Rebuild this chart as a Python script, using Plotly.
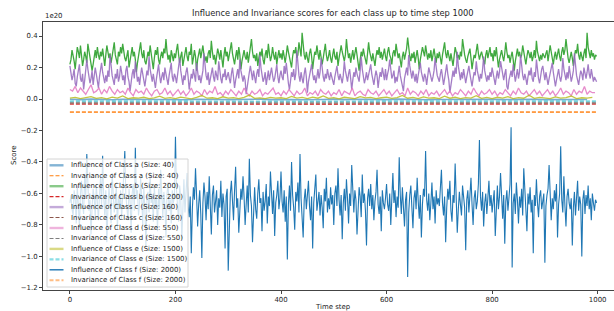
import plotly.graph_objects as go

# ---------------- data (scores in units of 1e20) ----------------
TITLE = "Influence and Invariance scores for each class up to time step 1000"
classes = ["a", "b", "c", "d", "e", "f"]
sizes = [40, 200, 160, 550, 1500, 2000]

t_inv = [0, 100, 200, 300, 400, 500, 600, 700, 800, 900, 999]

# sampled every 2 time steps
infl_f = [
    -0.66,-0.61,-0.70,-0.74,-0.58,-0.63,-0.79,-0.55,-0.68,-0.82,-0.60,-0.52,-0.67,-0.73,-0.48,-0.62,-0.35,-0.59,-0.71,-0.64,-0.86,-0.69,-0.57,-0.63,-0.75,-0.54,-0.66,-0.77,-0.61,-0.50,-0.68,-0.36,-0.62,-0.74,-0.58,-0.91,-0.70,-0.56,-0.65,-0.79,-0.47,-0.60,-0.72,-0.66,-0.55,-0.83,-0.62,-0.70,-0.58,-0.76,
    -0.64,-0.52,-0.33,-0.61,-0.69,-0.77,-0.57,-0.65,-0.85,-0.60,-0.54,-0.71,-0.31,-0.63,-0.58,-0.74,-0.67,-0.50,-0.62,-0.80,-0.56,-0.69,-0.94,-0.64,-0.59,-0.72,-0.48,-0.66,-0.61,-0.78,-0.55,-0.68,-0.63,-0.84,-0.57,-0.70,-0.45,-0.62,-0.75,-0.59,-0.67,-0.88,-0.60,-0.53,-0.71,-0.64,-0.79,-0.58,-0.66,-0.62,
    -0.24,-0.58,-0.69,-0.78,-0.55,-0.63,-0.90,-0.66,-0.51,-0.72,-0.60,-0.47,-0.68,-0.75,-0.62,-0.98,-0.70,-0.56,-0.64,-0.44,-0.61,-0.81,-0.67,-0.58,-0.73,-1.01,-0.66,-0.53,-0.62,-0.77,-0.59,-0.70,-0.49,-0.64,-0.86,-0.61,-0.55,-0.72,-0.66,-0.58,-0.80,-0.63,-0.69,-0.52,-0.75,-0.60,-0.67,-0.95,-0.62,-0.57,
    -1.09,-0.72,-0.60,-0.52,-0.66,-0.77,-0.58,-0.43,-0.69,-0.63,-0.85,-0.71,-0.57,-0.64,-0.49,-0.62,-0.80,-0.67,-0.55,-0.72,-0.38,-0.61,-0.68,-0.91,-0.64,-0.56,-0.70,-0.76,-0.60,-0.51,-0.66,-0.63,-0.84,-0.59,-0.71,-0.65,-0.54,-0.79,-0.62,-0.68,-0.46,-0.64,-0.73,-0.58,-0.87,-0.66,-0.61,-0.52,-0.70,-0.63,
    -0.46,-0.65,-0.72,-0.58,-0.78,-0.62,-1.02,-0.67,-0.55,-0.71,-0.40,-0.61,-0.69,-0.83,-0.59,-0.65,-0.53,-0.72,-0.35,-0.63,-0.76,-0.88,-0.64,-0.57,-0.70,-0.60,-0.52,-0.68,-0.77,-0.62,-0.95,-0.66,-0.58,-0.48,-0.71,-0.64,-0.59,-0.74,-0.61,-0.69,-0.82,-0.57,-0.65,-0.50,-0.72,-0.63,-0.70,-0.56,-0.67,-0.61,
    -0.80,-0.60,-0.55,-0.68,-0.44,-0.64,-0.74,-0.61,-0.89,-0.66,-0.57,-0.71,-0.51,-0.63,-0.79,-0.60,-0.68,-0.42,-0.65,-0.72,-0.58,-0.64,-0.86,-0.69,-0.56,-0.62,-0.75,-0.48,-0.66,-0.60,-0.71,-0.93,-0.63,-0.57,-0.68,-0.54,-0.70,-0.61,-0.77,-0.65,-0.59,-0.45,-0.67,-0.73,-0.62,-0.84,-0.58,-0.66,-0.70,-0.63,
    -0.54,-0.67,-0.71,-0.60,-0.80,-0.63,-0.47,-0.66,-0.58,-0.75,-0.62,-0.69,-0.37,-0.61,-0.73,-0.56,-0.66,-0.81,-0.64,-0.59,-1.13,-0.72,-0.61,-0.55,-0.69,-0.82,-0.63,-0.58,-0.70,-0.50,-0.65,-0.76,-0.61,-0.88,-0.67,-0.57,-0.62,-0.33,-0.64,-0.71,-0.60,-0.77,-0.66,-0.53,-0.70,-0.62,-0.79,-0.58,-0.67,-0.63,
    -0.68,-0.59,-0.45,-0.66,-0.74,-0.62,-0.91,-0.69,-0.57,-0.64,-0.52,-0.71,-0.78,-0.61,-0.66,-0.41,-0.63,-0.85,-0.70,-0.59,-0.67,-0.74,-0.55,-0.62,-0.69,-0.96,-0.64,-0.58,-0.72,-0.61,-0.50,-0.67,-0.80,-0.63,-0.58,-0.70,-0.65,-0.54,-0.26,-0.62,-0.71,-0.59,-0.81,-0.66,-0.60,-0.73,-0.64,-0.52,-0.68,-0.61,
    -0.72,-0.64,-0.58,-0.87,-0.66,-0.55,-0.70,-0.62,-0.47,-0.68,-0.76,-0.61,-0.92,-0.65,-0.58,-0.71,-0.63,-0.54,-0.18,-1.07,-0.66,-0.60,-0.73,-0.53,-0.64,-0.79,-0.62,-0.69,-0.57,-0.74,-0.44,-0.63,-0.70,-0.84,-0.60,-0.67,-0.56,-0.72,-0.64,-0.98,-0.61,-0.68,-0.51,-0.66,-0.75,-0.62,-0.58,-0.70,-0.65,-0.60,
    -1.04,-0.68,-0.61,-0.57,-0.42,-0.66,-0.77,-0.63,-0.70,-0.58,-0.65,-0.54,-0.88,-0.67,-0.60,-0.30,-0.64,-0.72,-0.49,-0.68,-0.81,-0.62,-0.57,-0.66,-0.70,-0.63,-0.93,-0.69,-0.59,-0.74,-0.65,-0.52,-0.71,-0.62,-0.67,-1.00,-0.64,-0.58,-0.73,-0.61,-0.68,-0.55,-0.70,-0.63,-0.77,-0.60,-0.66,-0.71,-0.64,-0.66,
]

infl_b = [
    0.22,0.25,0.31,0.28,0.24,0.19,0.27,0.33,0.30,0.26,0.34,0.29,0.21,0.25,0.30,0.27,0.23,0.35,0.31,0.28,0.24,0.18,0.22,0.29,0.31,0.26,0.33,0.28,0.25,0.30,0.27,0.32,0.24,0.21,0.28,0.34,0.30,0.26,0.29,0.23,0.27,0.31,0.36,0.28,0.25,0.22,0.30,0.27,0.33,0.29,
    0.35,0.30,0.26,0.24,0.29,0.31,0.20,0.25,0.28,0.33,0.27,0.30,0.25,0.17,0.23,0.27,0.31,0.36,0.29,0.26,0.31,0.24,0.22,0.28,0.30,0.27,0.34,0.29,0.24,0.19,0.26,0.31,0.28,0.33,0.25,0.22,0.27,0.30,0.26,0.32,0.29,0.38,0.30,0.25,0.28,0.23,0.31,0.27,0.24,0.29,
    0.26,0.31,0.35,0.28,0.23,0.27,0.30,0.21,0.26,0.29,0.33,0.27,0.24,0.30,0.28,0.35,0.22,0.26,0.31,0.27,0.18,0.25,0.29,0.32,0.26,0.30,0.34,0.28,0.24,0.27,0.23,0.29,0.31,0.26,0.37,0.30,0.25,0.28,0.22,0.27,0.32,0.29,0.25,0.31,0.26,0.20,0.28,0.33,0.27,0.30,
    0.24,0.28,0.32,0.36,0.29,0.26,0.22,0.27,0.31,0.25,0.33,0.28,0.19,0.24,0.29,0.31,0.27,0.25,0.30,0.23,0.28,0.34,0.38,0.30,0.26,0.28,0.24,0.29,0.21,0.26,0.30,0.27,0.32,0.25,0.22,0.28,0.31,0.26,0.35,0.29,0.24,0.27,0.33,0.28,0.25,0.30,0.22,0.27,0.31,0.26,
    0.29,0.25,0.31,0.27,0.23,0.28,0.34,0.30,0.26,0.24,0.20,0.27,0.31,0.29,0.33,0.26,0.28,0.36,0.31,0.27,0.42,0.33,0.28,0.25,0.30,0.26,0.23,0.29,0.32,0.27,0.19,0.25,0.30,0.28,0.34,0.29,0.25,0.31,0.27,0.22,0.26,0.30,0.35,0.28,0.24,0.27,0.31,0.26,0.23,0.28,
    0.32,0.27,0.25,0.30,0.21,0.26,0.29,0.34,0.30,0.27,0.24,0.28,0.38,0.31,0.26,0.29,0.23,0.27,0.31,0.25,0.29,0.33,0.28,0.24,0.18,0.25,0.30,0.27,0.32,0.28,0.25,0.22,0.29,0.36,0.30,0.27,0.24,0.29,0.26,0.21,0.27,0.31,0.28,0.33,0.26,0.30,0.25,0.28,0.32,0.27,
    0.24,0.30,0.33,0.28,0.26,0.22,0.29,0.31,0.27,0.35,0.30,0.26,0.29,0.24,0.20,0.27,0.30,0.25,0.28,0.32,0.39,0.31,0.27,0.24,0.29,0.26,0.30,0.23,0.27,0.31,0.26,0.19,0.25,0.28,0.33,0.30,0.27,0.34,0.28,0.25,0.29,0.26,0.31,0.24,0.28,0.32,0.27,0.23,0.29,0.26,
    0.30,0.26,0.22,0.28,0.33,0.36,0.29,0.26,0.31,0.27,0.24,0.29,0.25,0.21,0.27,0.33,0.30,0.26,0.28,0.25,0.30,0.27,0.38,0.32,0.28,0.25,0.23,0.27,0.30,0.32,0.26,0.19,0.24,0.28,0.26,0.31,0.35,0.29,0.25,0.28,0.30,0.27,0.24,0.22,0.28,0.31,0.26,0.29,0.33,0.27,
    0.29,0.24,0.31,0.27,0.33,0.26,0.20,0.25,0.28,0.31,0.27,0.24,0.29,0.36,0.30,0.26,0.28,0.23,0.27,0.30,0.25,0.18,0.24,0.29,0.32,0.27,0.30,0.26,0.28,0.34,0.29,0.25,0.22,0.27,0.31,0.29,0.26,0.30,0.24,0.27,0.31,0.26,0.37,0.30,0.27,0.24,0.28,0.25,0.29,0.27,
    0.26,0.29,0.31,0.24,0.28,0.34,0.30,0.26,0.22,0.27,0.30,0.25,0.29,0.32,0.27,0.24,0.30,0.33,0.28,0.31,0.38,0.29,0.26,0.23,0.28,0.30,0.26,0.21,0.27,0.31,0.29,0.35,0.28,0.25,0.30,0.27,0.24,0.29,0.32,0.26,0.42,0.33,0.28,0.26,0.31,0.27,0.29,0.25,0.28,0.27,
]

infl_c = [
    0.21,0.17,0.12,0.15,0.19,0.10,0.08,0.14,0.18,0.22,0.13,0.11,0.16,0.06,0.12,0.17,0.25,0.19,0.14,0.10,0.13,0.18,0.09,0.15,0.20,0.16,0.12,0.07,0.14,0.19,0.23,0.17,0.13,0.10,0.15,0.11,0.18,0.14,0.28,0.20,0.15,0.12,0.09,0.16,0.13,0.19,0.11,0.14,0.21,0.17,
    0.12,0.15,0.09,0.18,0.21,0.14,0.11,0.05,0.12,0.16,0.19,0.13,0.24,0.17,0.11,0.14,0.09,0.15,0.20,0.16,0.12,0.08,0.13,0.18,0.15,0.27,0.19,0.14,0.11,0.16,0.12,0.07,0.13,0.19,0.22,0.15,0.10,0.14,0.17,0.12,0.20,0.16,0.13,0.09,0.15,0.18,0.23,0.14,0.11,0.16,
    0.14,0.10,0.17,0.21,0.26,0.18,0.13,0.09,0.15,0.12,0.17,0.20,0.14,0.06,0.11,0.16,0.13,0.19,0.15,0.11,0.23,0.17,0.12,0.15,0.10,0.14,0.18,0.29,0.21,0.15,0.12,0.17,0.09,0.13,0.16,0.20,0.14,0.11,0.18,0.15,0.12,0.24,0.17,0.13,0.10,0.16,0.14,0.19,0.12,0.15,
    0.17,0.13,0.10,0.16,0.20,0.14,0.07,0.12,0.16,0.19,0.13,0.25,0.18,0.14,0.11,0.15,0.12,0.03,0.09,0.14,0.17,0.21,0.15,0.12,0.18,0.13,0.10,0.16,0.19,0.14,0.28,0.20,0.15,0.11,0.13,0.17,0.09,0.14,0.18,0.12,0.16,0.20,0.15,0.11,0.13,0.17,0.22,0.14,0.10,0.15,
    0.18,0.14,0.12,0.21,0.16,0.23,0.15,0.10,0.06,0.13,0.17,0.14,0.19,0.12,0.16,0.31,0.22,0.15,0.11,0.17,0.13,0.10,0.16,0.20,0.14,0.04,0.11,0.15,0.18,0.22,0.16,0.12,0.15,0.10,0.14,0.19,0.13,0.17,0.26,0.18,0.14,0.11,0.16,0.13,0.19,0.15,0.12,0.17,0.14,0.13,
    0.09,0.14,0.17,0.21,0.15,0.12,0.16,0.13,0.10,0.15,0.24,0.18,0.14,0.11,0.16,0.19,0.13,0.06,0.12,0.17,0.14,0.20,0.16,0.13,0.11,0.18,0.27,0.19,0.14,0.10,0.13,0.17,0.12,0.15,0.19,0.22,0.16,0.12,0.09,0.14,0.18,0.15,0.07,0.13,0.17,0.14,0.20,0.16,0.12,0.19,
    0.12,0.16,0.19,0.25,0.17,0.13,0.15,0.18,0.10,0.14,0.11,0.16,0.21,0.15,0.12,0.07,0.05,0.13,0.17,0.20,0.15,0.28,0.21,0.16,0.13,0.18,0.14,0.11,0.16,0.10,0.15,0.19,0.23,0.17,0.13,0.11,0.16,0.14,0.09,0.15,0.20,0.17,0.13,0.11,0.14,0.18,0.26,0.19,0.15,0.13,
    0.11,0.16,0.19,0.14,0.09,0.13,0.17,0.22,0.16,0.12,0.04,0.10,0.15,0.18,0.14,0.20,0.16,0.30,0.21,0.15,0.12,0.17,0.13,0.19,0.15,0.10,0.14,0.18,0.21,0.16,0.12,0.08,0.13,0.17,0.15,0.24,0.18,0.14,0.11,0.16,0.13,0.19,0.27,0.18,0.14,0.11,0.15,0.12,0.17,0.14,
    0.20,0.16,0.12,0.09,0.14,0.18,0.13,0.17,0.24,0.19,0.14,0.12,0.16,0.19,0.08,0.06,0.12,0.15,0.18,0.14,0.22,0.16,0.11,0.15,0.19,0.13,0.17,0.28,0.20,0.15,0.12,0.16,0.13,0.09,0.14,0.18,0.15,0.20,0.13,0.11,0.17,0.14,0.25,0.18,0.13,0.10,0.15,0.19,0.21,0.16,
    0.12,0.17,0.14,0.09,0.13,0.16,0.21,0.23,0.17,0.13,0.08,0.12,0.16,0.19,0.14,0.11,0.15,0.26,0.19,0.14,0.12,0.17,0.13,0.21,0.15,0.11,0.14,0.18,0.29,0.20,0.15,0.12,0.09,0.14,0.18,0.16,0.12,0.20,0.15,0.13,0.17,0.22,0.16,0.13,0.19,0.15,0.11,0.14,0.12,0.11,
]

# sampled every 5 time steps
infl_d = [
    0.06,0.05,0.08,0.04,0.07,0.05,0.03,0.06,0.09,0.04,0.05,0.07,0.03,0.06,0.04,0.08,0.05,0.03,0.06,0.04,
    0.05,0.03,0.07,0.04,0.02,0.06,0.04,0.05,0.03,0.07,0.04,0.02,0.05,0.06,0.03,0.04,0.07,0.03,0.05,0.02,
    0.04,0.06,0.03,0.05,0.02,0.04,0.07,0.03,0.05,0.04,0.02,0.06,0.03,0.05,0.04,0.08,0.03,0.04,0.02,0.05,
    0.03,0.06,0.04,0.02,0.05,0.03,0.07,0.04,0.02,0.05,0.03,0.04,0.06,0.02,0.04,0.03,0.05,0.07,0.03,0.04,
    0.02,0.05,0.03,0.06,0.04,0.02,0.05,0.03,0.04,0.07,0.02,0.04,0.03,0.05,0.02,0.06,0.04,0.03,0.05,0.02,
    0.04,0.03,0.06,0.02,0.05,0.04,0.03,0.07,0.02,0.04,0.05,0.03,0.02,0.06,0.04,0.03,0.05,0.02,0.04,0.06,
    0.03,0.05,0.02,0.04,0.06,0.03,0.04,0.02,0.07,0.03,0.05,0.04,0.02,0.05,0.03,0.06,0.02,0.04,0.03,0.05,
    0.02,0.04,0.06,0.03,0.05,0.02,0.04,0.03,0.06,0.04,0.02,0.05,0.03,0.07,0.04,0.02,0.05,0.03,0.04,0.06,
    0.03,0.05,0.02,0.04,0.03,0.06,0.04,0.02,0.05,0.03,0.07,0.04,0.03,0.05,0.02,0.04,0.06,0.03,0.05,0.02,
    0.04,0.06,0.03,0.05,0.02,0.04,0.07,0.03,0.05,0.04,0.02,0.06,0.03,0.05,0.04,0.08,0.03,0.05,0.04,0.04,
]

# sampled every 10 time steps
infl_e = [
    0.005,0.010,0.002,0.008,0.015,0.004,0.009,0.001,0.012,0.006,0.020,0.003,0.008,0.005,0.011,0.002,0.007,0.018,0.004,0.009,
    0.003,0.012,0.006,0.001,0.010,0.022,0.005,0.008,0.002,0.014,0.006,0.009,0.003,0.011,0.025,0.004,0.007,0.002,0.010,0.005,
    0.008,0.003,0.016,0.006,0.010,0.002,0.012,0.005,0.020,0.004,0.009,0.001,0.011,0.006,0.003,0.015,0.007,0.010,0.002,0.008,
    0.012,0.004,0.009,0.023,0.005,0.010,0.002,0.013,0.006,0.008,0.003,0.018,0.005,0.011,0.002,0.009,0.006,0.021,0.004,0.010,
    0.003,0.011,0.006,0.015,0.002,0.009,0.005,0.024,0.004,0.010,0.007,0.002,0.013,0.005,0.009,0.019,0.003,0.008,0.006,0.010,
]

# sampled every 20 time steps
infl_a = [
    -0.002,-0.004,-0.001,-0.003,-0.005,-0.002,-0.003,-0.001,-0.004,-0.002,
    -0.003,-0.005,-0.002,-0.001,-0.003,-0.004,-0.002,-0.003,-0.001,-0.004,
    -0.002,-0.003,-0.005,-0.002,-0.003,-0.001,-0.004,-0.002,-0.003,-0.002,
    -0.004,-0.001,-0.003,-0.002,-0.005,-0.003,-0.002,-0.004,-0.001,-0.003,
    -0.002,-0.004,-0.003,-0.001,-0.002,-0.004,-0.003,-0.002,-0.005,-0.003,
]

inv_a = [-0.083, -0.084, -0.082, -0.083, -0.084, -0.083, -0.082, -0.083, -0.084, -0.083, -0.083]
inv_b = [-0.033, -0.034, -0.033, -0.032, -0.033, -0.034, -0.033, -0.033, -0.032, -0.033, -0.033]
inv_c = [-0.027, -0.027, -0.028, -0.027, -0.026, -0.027, -0.028, -0.027, -0.027, -0.026, -0.027]
inv_d = [-0.021, -0.020, -0.021, -0.022, -0.021, -0.020, -0.021, -0.021, -0.022, -0.021, -0.021]
inv_e = [-0.014, -0.015, -0.014, -0.013, -0.014, -0.015, -0.014, -0.014, -0.013, -0.014, -0.014]
inv_f = [-0.083, -0.082, -0.084, -0.083, -0.082, -0.083, -0.084, -0.083, -0.082, -0.083, -0.083]

y_ticks = [0.4, 0.2, 0.0, -0.2, -0.4, -0.6, -0.8, -1.0, -1.2]
x_ticks = [0, 200, 400, 600, 800, 1000]


def steps(values, every):
    return list(range(0, every * len(values), every))


# ---------------- styling ----------------
C = ["#1f77b4", "#ff7f0e", "#2ca02c", "#d62728", "#9467bd",
     "#8c564b", "#e377c2", "#7f7f7f", "#bcbd22", "#17becf"]

W, H = 614, 311
L, R, T, B = 43, 0, 22, 21
PW, PH = W - L - R, H - T - B

def px_x(x):
    return (x - L) / PW

def px_y(y):
    return (H - B - y) / PH

# (label, x, y, color, width, dash, opacity)
series = [
    ("Influence of Class a", steps(infl_a, 20), infl_a, C[0], 1.6, "solid", 0.6),
    ("Invariance of Class a", t_inv, inv_a, C[1], 1.0, "4px,2px", 1.0),
    ("Influence of Class b", steps(infl_b, 2), infl_b, C[2], 1.3, "solid", 0.9),
    ("Invariance of Class b", t_inv, inv_b, C[3], 1.0, "4px,2px", 1.0),
    ("Influence of Class c", steps(infl_c, 2), infl_c, C[4], 1.3, "solid", 0.85),
    ("Invariance of Class c", t_inv, inv_c, C[5], 1.0, "4px,2px", 1.0),
    ("Influence of Class d", steps(infl_d, 5), infl_d, C[6], 1.3, "solid", 0.85),
    ("Invariance of Class d", t_inv, inv_d, C[7], 1.0, "4px,2px", 1.0),
    ("Influence of Class e", steps(infl_e, 10), infl_e, C[8], 1.3, "solid", 0.85),
    ("Invariance of Class e", t_inv, inv_e, C[9], 1.8, "4px,2px", 0.55),
    ("Influence of Class f", steps(infl_f, 2), infl_f, C[0], 1.1, "solid", 1.0),
    ("Invariance of Class f", t_inv, inv_f, C[1], 1.8, "4px,2px", 0.5),
]
legend_sizes = [s for s in sizes for _ in (0, 1)]
legend_width = [2.4, 1.1, 2.4, 1.1, 2.4, 1.1, 2.4, 1.1, 2.4, 2.2, 1.4, 2.2]
legend_alpha = [0.55, 1, 0.55, 1, 0.55, 1, 0.55, 1, 0.55, 0.5, 1, 0.5]

fig = go.Figure()
for (lab, xs, ys, col, w, dash, op) in series:
    fig.add_trace(go.Scatter(x=xs, y=ys, mode="lines", name=lab, opacity=op,
                             line=dict(color=col, width=w, dash=dash),
                             showlegend=False, hoverinfo="skip"))

font = "DejaVu Sans, Liberation Sans, sans-serif"
TXT = "#262626"
FS = 6.95

shapes = []
annotations = []

# hand-built legend box (matplotlib style)
lx0, lx1, ly0, ly1 = 47, 188, 159, 287
shapes.append(dict(type="rect", xref="paper", yref="paper",
                   x0=px_x(lx0), x1=px_x(lx1), y0=px_y(ly1), y1=px_y(ly0),
                   fillcolor="rgba(255,255,255,0.8)", line=dict(color="#d4d4d4", width=1),
                   layer="above"))
row0, dy = 165.3, 10.45
for i, (lab, xs, ys, col, w, dash, op) in enumerate(series):
    yy = row0 + i * dy
    shapes.append(dict(type="line", xref="paper", yref="paper",
                       x0=px_x(49.5), x1=px_x(63.5), y0=px_y(yy), y1=px_y(yy),
                       line=dict(color=col, width=legend_width[i], dash=dash),
                       opacity=legend_alpha[i], layer="above"))
    annotations.append(dict(xref="paper", yref="paper", x=px_x(69), y=px_y(yy),
                            xanchor="left", yanchor="middle", showarrow=False,
                            text=f"{lab} (Size: {legend_sizes[i]})",
                            font=dict(size=FS, color=TXT, family=font)))

# title, offset text, axis labels
annotations.append(dict(xref="paper", yref="paper", x=px_x(333), y=px_y(13),
                        xanchor="center", yanchor="middle", showarrow=False,
                        text=TITLE, font=dict(size=8.3, color=TXT, family=font)))
annotations.append(dict(xref="paper", yref="paper", x=px_x(43), y=px_y(16),
                        xanchor="left", yanchor="middle", showarrow=False,
                        text="1e20", font=dict(size=FS, color=TXT, family=font)))
annotations.append(dict(xref="paper", yref="paper", x=px_x(333), y=px_y(306.5),
                        xanchor="center", yanchor="middle", showarrow=False,
                        text="Time step", font=dict(size=FS, color=TXT, family=font)))
annotations.append(dict(xref="paper", yref="paper", x=px_x(14), y=px_y(156),
                        xanchor="center", yanchor="middle", showarrow=False, textangle=-90,
                        text="Score", font=dict(size=FS, color=TXT, family=font)))

def fmt(v):
    s = f"{abs(v):.1f}"
    return ("\u2212" + s) if v < 0 else s

fig.update_layout(
    width=W, height=H,
    margin=dict(l=L, r=R, t=T, b=B, pad=0),
    paper_bgcolor="white", plot_bgcolor="white",
    showlegend=False,
    shapes=shapes, annotations=annotations,
    xaxis=dict(range=[-51, 1031], tickvals=x_ticks, ticktext=[str(v) for v in x_ticks],
               showgrid=False, zeroline=False, showline=True, linecolor="#444", linewidth=1,
               mirror=True, ticks="outside", ticklen=3, tickcolor="#444",
               tickfont=dict(size=FS, color=TXT, family=font)),
    yaxis=dict(range=[-1.213, 0.489], tickvals=y_ticks, ticktext=[fmt(v) for v in y_ticks],
               showgrid=False, zeroline=False, showline=True, linecolor="#444", linewidth=1,
               mirror=True, ticks="outside", ticklen=3, tickcolor="#444",
               tickfont=dict(size=FS, color=TXT, family=font)),
)

fig.write_html("out.html", config={"displayModeBar": False},
               post_script="document.body.style.margin='0';document.body.style.padding='0';")
